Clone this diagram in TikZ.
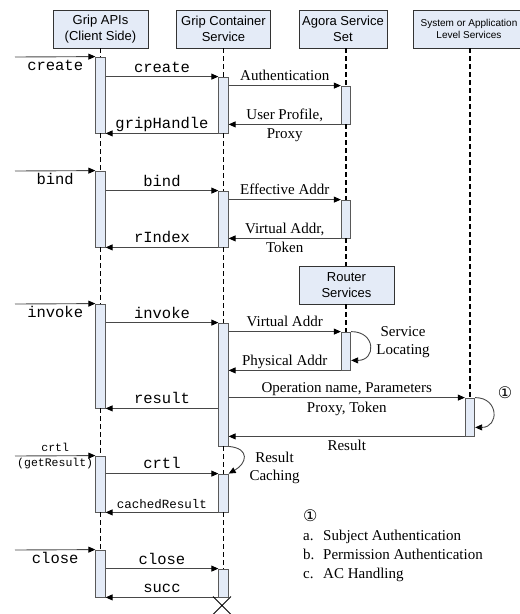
\documentclass[tikz,border=0pt]{standalone}
\usepackage{fontspec}
\setmainfont{Liberation Serif}
\setsansfont{Liberation Sans}
\setmonofont{Liberation Mono}
\newfontfamily\circfont{DejaVu Sans}
\definecolor{lanefill}{RGB}{228,235,247}
\definecolor{msggrey}{RGB}{72,72,72}
\usetikzlibrary{arrows.meta,shapes.misc}
\newcommand{\actbar}[4]{\node[actbar,minimum height={#4pt-#3pt}] (#1) at (#2,{(#3+#4)/2}) {};}

\begin{document}
\begin{tikzpicture}[
      x=1pt,y=-1pt,
      head/.style={draw=black!80,line width=0.8pt,fill=lanefill,align=center,
                   font=\fontsize{13}{16}\sffamily,minimum height=38pt,inner sep=1pt},
      actbar/.style={draw=black!65,line width=0.8pt,fill=lanefill,
                     minimum width=9.5pt,inner sep=0pt},
      life/.style={black,line width=1.3pt,dash pattern=on 5pt off 3pt},
      msg/.style={msggrey,line width=0.9pt,
                  -{Triangle[length=7pt,width=6pt,color=black]}},
      lbl/.style={font=\fontsize{15}{18}\selectfont,text=black,
                  text height=12pt,text depth=3.5pt,inner sep=1pt},
      code/.style={font=\fontsize{15.5}{17}\ttfamily,text=black,
                   text height=11pt,text depth=3pt,inner sep=1pt},
      smallcode/.style={font=\fontsize{12.5}{14}\ttfamily,text=black,
                        text height=9pt,text depth=2.5pt,inner sep=1pt},
      tinycode/.style={font=\fontsize{11.5}{13}\ttfamily,text=black,
                       text height=8pt,text depth=2.5pt,inner sep=1pt}]
    \useasboundingbox (0,0) rectangle (520,614);

    \node[head,minimum width=95pt] (apis) at (100.5,29) {Grip APIs\\(Client Side)};
    \node[head,minimum width=94pt] (cont) at (223.5,29) {Grip Container\\Service};
    \node[head,minimum width=88pt] (agora) at (343,29) {Agora Service\\Set};
    \node[head,minimum width=112pt,font=\fontsize{10}{12}\sffamily] (sysserv) at (469,29)
        {System or Application\\Level Services};
    \node[head,minimum width=95pt] (router) at (346.5,285) {Router\\Services};

    \actbar{apisA}{100.5}{57}{133}
    \actbar{contA}{223.5}{77}{133}
    \actbar{agoraA}{346}{86}{124}
    \actbar{apisB}{100.5}{171}{247}
    \actbar{contB}{223.5}{191}{247}
    \actbar{agoraB}{346}{200}{238}
    \actbar{apisC}{100.5}{304}{408}
    \actbar{contC}{223.5}{323}{446}
    \actbar{routerA}{346}{332}{370}
    \actbar{sysA}{470}{398}{436}
    \actbar{apisD}{100.5}{456}{512}
    \actbar{contD}{223.5}{474}{512}
    \actbar{apisE}{100.5}{550}{597}
    \actbar{contE}{223.5}{569}{597}

    \draw[life] (apis.south) -- (apisA.north);
    \draw[life] (apisA.south) -- (apisB.north);
    \draw[life] (apisB.south) -- (apisC.north);
    \draw[life] (apisC.south) -- (apisD.north);
    \draw[life] (apisD.south) -- (apisE.north);
    \draw[life] (cont.south) -- (contA.north);
    \draw[life] (contA.south) -- (contB.north);
    \draw[life] (contB.south) -- (contC.north);
    \draw[life] (contC.south) -- (contD.north);
    \draw[life] (contD.south) -- (contE.north);
    \draw[life] (agora.south -| agoraA) -- (agoraA.north);
    \draw[life] (agoraA.south) -- (agoraB.north);
    \draw[life] (agoraB.south) -- (router.north -| agoraB);
    \draw[life] (router.south -| routerA) -- (routerA.north);
    \draw[life] (sysserv.south -| sysA) -- (sysA.north);

    \coordinate (inA) at (15,57);
    \coordinate (inB) at (15,171);
    \coordinate (inC) at (15,304);
    \coordinate (inD) at (15,456);
    \coordinate (inE) at (15,550);

    \draw[msg] (inA) -- node[code,below=1pt] {create} (apisA.north west);
    \draw[msg] (apisA.east |- contA.north) -- node[code,above] {create} (contA.north west);
    \draw[msg] (contA.east |- agoraA.north) -- node[lbl,above] {Authentication} (agoraA.north west);
    \draw[msg] (agoraA.south west) -- node[lbl,above] {User Profile,}
        node[lbl,below=1pt] {Proxy} (contA.east |- agoraA.south);
    \draw[msg] (contA.south west) -- node[code,above] {gripHandle} (apisA.south east);

    \draw[msg] (inB) -- node[code,below=1pt] {bind} (apisB.north west);
    \draw[msg] (apisB.east |- contB.north) -- node[code,above] {bind} (contB.north west);
    \draw[msg] (contB.east |- agoraB.north) -- node[lbl,above] {Effective Addr} (agoraB.north west);
    \draw[msg] (agoraB.south west) -- node[lbl,above] {Virtual Addr,}
        node[lbl,below=1pt] {Token} (contB.east |- agoraB.south);
    \draw[msg] (contB.south west) -- node[code,above] {rIndex} (apisB.south east);

    \draw[msg] (inC) -- node[code,below=1pt] {invoke} (apisC.north west);
    \draw[msg] (apisC.east |- contC.north) -- node[code,above] {invoke} (contC.north west);
    \draw[msg] (contC.east |- routerA.north) -- node[lbl,above] {Virtual Addr} (routerA.north west);
    \draw[msg] (routerA.south west) -- node[lbl,above] {Physical Addr} (contC.east |- routerA.south);
    \draw[msg] (routerA.north east) .. controls +(25,0) and +(25,0) .. ([yshift=10pt]routerA.south east);
    \node[lbl,align=center,text height=,text depth=] (locating) at (403,342) {Service\\Locating};
    \draw[msg] (contC.east |- sysA.north) -- node[lbl,above] {Operation name, Parameters}
        node[lbl,below=1pt] {Proxy, Token} (sysA.north west);
    \draw[msg] (sysA.north east) .. controls +(24,0) and +(24,0) .. ([yshift=9pt]sysA.south east);
    \node[font=\fontsize{16}{16}\circfont,inner sep=0pt] (mark) at (505,393) {①};
    \draw[msg] (sysA.south west) -- node[lbl,below=1pt] {Result} (contC.east |- sysA.south);
    \draw[msg] (contC.west |- apisC.south) -- node[code,above] {result} (apisC.south east);

    \draw[msg] (contC.south east) .. controls +(22,2) and +(18,-10) .. (contD.north east);
    \node[lbl,align=center,text height=,text depth=] (caching) at (274.5,467.5) {Result\\Caching};
    \draw[msg] (inD) -- node[tinycode,above] {crtl} node[tinycode,below=1pt] {(getResult)} (apisD.north west);
    \draw[msg] (apisD.east |- contD.north) -- node[code,above=1pt] {crtl} (contD.north west);
    \draw[msg] (contD.south west) -- node[smallcode,above] {cachedResult} (apisD.south east);

    \draw[msg] (inE) -- node[code,below=1pt] {close} (apisE.north west);
    \draw[msg] (apisE.east |- contE.north) -- node[code,above] {close} (contE.north west);
    \draw[msg] (contE.south west) -- node[code,above] {succ} (apisE.south east);
    \node[draw,cross out,line width=0.9pt,minimum size=17pt,inner sep=0pt] (endX) at (222,605.5) {};

    \node[anchor=north west,align=left,inner sep=0pt,font=\fontsize{15}{19}\selectfont] (legend) at (303,509)
        {{\circfont\fontsize{16}{19}\selectfont ①}\\
         \makebox[20pt][l]{a.}Subject Authentication\\
         \makebox[20pt][l]{b.}Permission Authentication\\
         \makebox[20pt][l]{c.}AC Handling};
  \end{tikzpicture}
\end{document}
